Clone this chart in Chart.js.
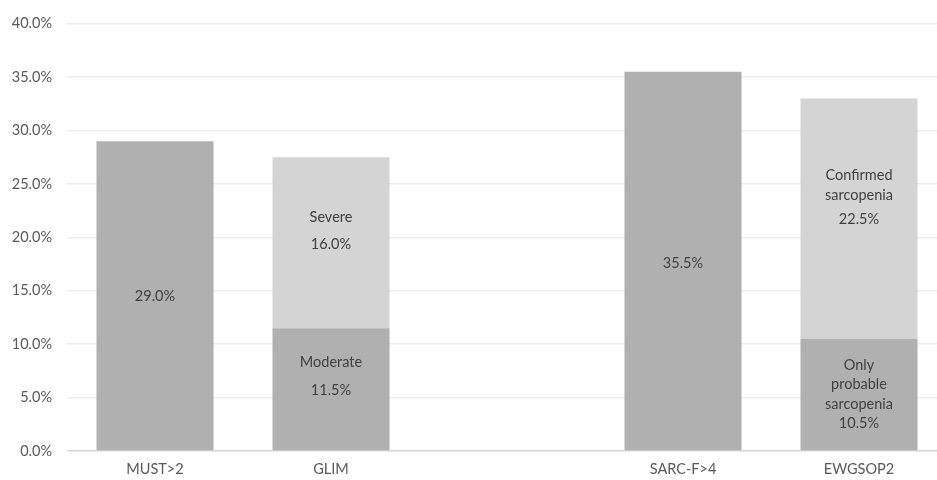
<!DOCTYPE html>
<html>
<head>
<meta charset="utf-8">
<script src="https://cdn.jsdelivr.net/npm/chart.js@4.4.0/dist/chart.umd.min.js"></script>
<style>
  html, body { margin: 0; padding: 0; background: #fff; overflow: hidden; }
  #wrap { width: 949px; height: 480px; }
</style>
</head>
<body>
<div id="wrap"><canvas id="chart" width="949" height="480"></canvas></div>
<script>
const categories = ["MUST>2", "GLIM", "", "SARC-F>4", "EWGSOP2"];
const darkValues = [29.0, 11.5, null, 35.5, 10.5];
const lightValues = [null, 16.0, null, null, 22.5];
const darkNames = ["", "Moderate", "", "", "Only\nprobable\nsarcopenia"];
const lightNames = ["", "Severe", "", "", "Confirmed\nsarcopenia"];
const yMax = 40;
const yStep = 5;

const FONT = "Lato, 'Open Sans', sans-serif";

// draws the text inside each bar segment
const inBarLabels = {
    id: "inBarLabels",
    afterDatasetsDraw(chart, args, opts) {
        const ctx = chart.ctx;
        ctx.save();
        ctx.font = "14.5px " + FONT;
        ctx.fillStyle = "#404040";
        ctx.textAlign = "center";
        ctx.textBaseline = "middle";
        chart.data.datasets.forEach((ds, di) => {
            const meta = chart.getDatasetMeta(di);
            ds.data.forEach((v, i) => {
                if (v == null) return;
                const bar = meta.data[i];
                const names = ds.names[i] ? ds.names[i].split("\n") : [];
                const lines = names.concat([v.toFixed(1) + "%"]);
                const lh = opts.lineHeight;
                const gap = names.length ? opts.gaps[di][i] : 0;
                const total = (lines.length - 1) * lh + gap;
                const mid = (bar.y + bar.base) / 2 + opts.shifts[di][i];
                let y = mid - total / 2;
                lines.forEach((t, k) => {
                    if (k === lines.length - 1 && names.length) y += gap;
                    ctx.fillText(t, bar.x, y);
                    y += lh;
                });
            });
        });
        ctx.restore();
    }
};

new Chart(document.getElementById("chart").getContext("2d"), {
    type: "bar",
    data: {
        labels: categories,
        datasets: [
            {
                data: darkValues,
                names: darkNames,
                backgroundColor: "#b0b0b0",
                borderWidth: 0
            },
            {
                data: lightValues,
                names: lightNames,
                backgroundColor: "#d4d4d4",
                borderWidth: 0
            }
        ]
    },
    options: {
        responsive: false,
        animation: false,
        layout: { padding: { top: 20, right: 2, left: 0, bottom: 0 } },
        datasets: {
            bar: { barPercentage: 1, categoryPercentage: 117 / 176 }
        },
        scales: {
            x: {
                stacked: true,
                grid: { display: false, drawTicks: false },
                border: { display: false },
                ticks: {
                    color: "#595959",
                    font: { family: FONT, size: 14.5 },
                    padding: 10,
                    maxRotation: 0
                },
                afterFit(scale) { scale.height = 29; }
            },
            y: {
                stacked: true,
                min: 0,
                max: yMax,
                z: 1,
                border: { display: false },
                grid: {
                    drawTicks: false,
                    lineWidth: 1.5,
                    color: (c) => c.tick && c.tick.value === 0 ? "#d6d6d6" : "rgba(0,0,0,0.07)"
                },
                ticks: {
                    stepSize: yStep,
                    padding: 15,
                    color: "#595959",
                    font: { family: FONT, size: 14.5 },
                    callback: (v) => v.toFixed(1) + "%"
                },
                afterFit(scale) { scale.width = 67; }
            }
        },
        plugins: {
            legend: { display: false },
            tooltip: { enabled: false },
            inBarLabels: {
                lineHeight: 19.5,
                shifts: [[1, -13, 0, 2, 0], [0, -12, 0, 0, -21]],
                gaps: [[0, 9, 0, 0, 0], [0, 7, 0, 0, 5]]
            }
        }
    },
    plugins: [inBarLabels]
});
</script>
</body>
</html>
